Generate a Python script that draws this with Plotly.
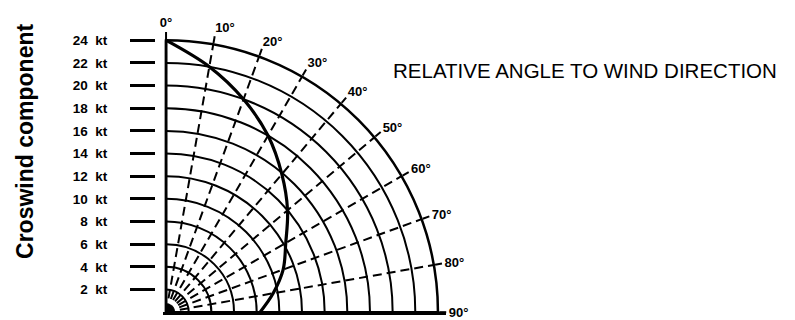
import plotly.graph_objects as go

# ---- data ----
speed_ticks = [2, 4, 6, 8, 10, 12, 14, 16, 18, 20, 22, 24]
speed_labels = [f"{v}\u00a0\u00a0kt" for v in speed_ticks]
angle_ticks = [0, 10, 20, 30, 40, 50, 60, 70, 80, 90]
angle_labels = [f"{a}°" for a in angle_ticks]
curve_theta = [0, 10, 20, 30, 40, 50, 60, 70, 80, 90]
curve_r = [24, 22, 20, 18, 15.9, 14.0, 12.2, 11.0, 9.6, 8.3]

W, H = 795, 320
FONT = "Liberation Sans, Arial, sans-serif"

# pixel layout of the quarter diagram
x0 = 163
ytop, ybot = 34, 312
x1 = x0 + (ybot - ytop)
xd = [x0 / W, x1 / W]
yd = [(H - ybot) / H, (H - ytop) / H]

fig = go.Figure()

fig.add_trace(go.Scatterpolar(
    r=curve_r, theta=curve_theta, mode="lines",
    line=dict(color="black", width=3.2, shape="spline"),
    showlegend=False, hoverinfo="skip",
))

# empty cartesian trace so the overlay axes (labels + baseline) are drawn
fig.add_trace(go.Scatter(x=[], y=[], xaxis="x", yaxis="y", showlegend=False))

fig.update_layout(
    width=W, height=H,
    margin=dict(l=0, r=0, t=0, b=0),
    paper_bgcolor="white",
    plot_bgcolor="rgba(0,0,0,0)",
    font=dict(family=FONT, color="black"),
    polar=dict(
        domain=dict(x=xd, y=yd),
        sector=[0, 90],
        bgcolor="rgba(0,0,0,0)",
        angularaxis=dict(
            rotation=90, direction="clockwise",
            tickmode="array", tickvals=angle_ticks, ticktext=angle_labels,
            tickfont=dict(size=13, family=FONT, weight="bold", color="black"),
            ticks="outside", ticklen=7, tickwidth=2, tickcolor="black",
            showline=True, linecolor="black", linewidth=2.5,
            showgrid=True, gridcolor="black", gridwidth=2.2, griddash="9px,5px",
        ),
        radialaxis=dict(
            range=[0, 24], tickmode="linear", tick0=0, dtick=2,
            angle=90, showticklabels=False, ticks="",
            showline=True, linecolor="black", linewidth=2.5,
            showgrid=True, gridcolor="black", gridwidth=2.4,
        ),
    ),
    xaxis=dict(
        domain=[x0 / W, (x1 + 5) / W], range=[0, 1], anchor="y",
        showline=True, linecolor="black", linewidth=2.5,
        showgrid=False, zeroline=False, showticklabels=False, ticks="",
        fixedrange=True,
    ),
    yaxis=dict(
        domain=yd, range=[0, 24], anchor="free", position=155 / W, side="left",
        tickmode="array", tickvals=speed_ticks, ticktext=speed_labels,
        ticks="outside", ticklen=25, tickwidth=2.5, tickcolor="black",
        ticklabelstandoff=20,
        tickfont=dict(size=13.5, family=FONT, weight="bold", color="black"),
        showline=False, showgrid=False, zeroline=False, fixedrange=True,
    ),
    annotations=[
        dict(text="Croswind component", x=25 / W, y=1 - 138 / H,
             xref="paper", yref="paper", textangle=-90, showarrow=False,
             xanchor="center", yanchor="middle",
             font=dict(size=23, family=FONT, weight="bold", color="black")),
        dict(text="RELATIVE ANGLE TO WIND DIRECTION", x=391 / W, y=1 - 65 / H,
             xref="paper", yref="paper", showarrow=False,
             xanchor="left", yanchor="middle",
             font=dict(size=20.5, family=FONT, color="black")),
    ],
)

fig.write_html(
    "out.html",
    config={"displayModeBar": False},
    post_script=(
        "document.body.style.margin='0px';document.body.style.padding='0px';"
        "document.body.style.overflow='hidden';"
        "var d=document.getElementById('{plot_id}');"
        "d.style.position='absolute';d.style.top='0px';d.style.left='0px';"
    ),
)
